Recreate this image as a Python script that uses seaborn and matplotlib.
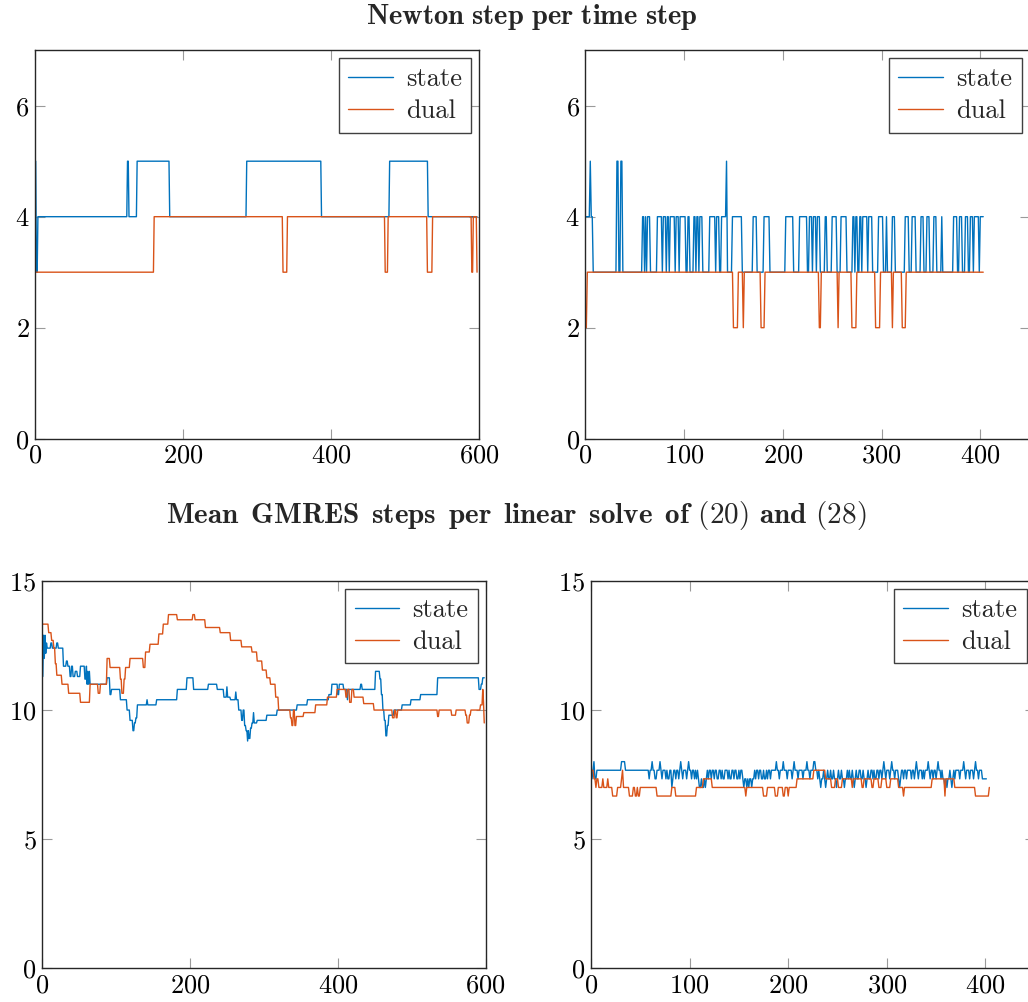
import numpy as np
import matplotlib
matplotlib.use("Agg")
import matplotlib.pyplot as plt
import seaborn as sns

BLUE = "#0072BD"
ORANGE = "#D95319"

# ---- Newton steps, first run: (value, run length)
newton_state_a_vals = [5, 3, 4, 5, 4, 5, 4, 5, 4, 5, 4]
newton_state_a_runs = [2, 2, 121, 2, 11, 44, 104, 101, 92, 52, 67]
newton_dual_a_vals = [3, 4, 3, 4, 3, 4, 3, 4, 3, 4, 3]
newton_dual_a_runs = [161, 174, 6, 132, 4, 53, 7, 53, 2, 5, 1]

# ---- Newton steps, second run (404 steps): base value 3, intervals at 4, single steps at 5
newton_b_len = 404
newton_state_b_fours = [(0, 7), (58, 59), (61, 61), (63, 65), (73, 77), (79, 81), (83, 84), (86, 90),
                        (92, 94), (96, 101), (104, 105), (110, 111), (113, 114), (116, 118),
                        (126, 131), (133, 135), (138, 142), (149, 158), (170, 173), (181, 186),
                        (203, 210), (217, 224), (227, 229), (231, 233), (235, 237), (243, 244),
                        (250, 254), (259, 264), (271, 272), (274, 275), (278, 279), (281, 285),
                        (287, 290), (297, 301), (305, 305), (311, 313), (324, 327), (331, 334),
                        (340, 342), (346, 348), (353, 355), (361, 361), (373, 376), (379, 381),
                        (385, 387), (390, 392), (394, 398), (400, 403)]
newton_state_b_fives = [5, 32, 33, 36, 37, 143]
newton_dual_b_twos = [(0, 1), (150, 154), (160, 160), (178, 181), (237, 238), (256, 256),
                      (270, 274), (294, 298), (311, 311), (321, 324)]

# ---- Mean GMRES steps, first run: change points (step, value)
gm_state_a_t = [0, 1, 2, 3, 4, 5, 6, 7, 12, 14, 20, 22, 29, 33, 35, 38, 40, 42, 45, 48, 52, 58, 60,
                61, 62, 63, 64, 65, 88, 92, 94, 106, 115, 119, 123, 125, 127, 129, 142, 143, 155,
                183, 196, 205, 225, 237, 246, 250, 251, 255, 262, 263, 266, 270, 272, 274, 276,
                278, 279, 280, 282, 284, 286, 287, 291, 304, 318, 345, 359, 388, 392, 400, 402,
                408, 413, 414, 431, 433, 451, 457, 459, 461, 463, 465, 467, 469, 476, 487, 499,
                512, 535, 591, 594, 596]
gm_state_a_v = [12.9, 11.3, 12.9, 12.0, 12.9, 12.2, 12.6, 12.4, 12.6, 12.4, 12.6, 12.4, 11.7, 11.9,
                11.7, 11.3, 11.7, 11.3, 11.5, 11.3, 11.7, 11.2, 11.7, 11.0, 11.5, 11.0, 11.5, 11.0,
                11.25, 10.6, 10.8, 10.4, 10.0, 9.6, 9.2, 9.5, 9.7, 10.2, 10.4, 10.2, 10.4, 10.8,
                11.25, 10.8, 11.0, 10.8, 10.5, 10.9, 10.5, 10.4, 10.7, 10.4, 10.0, 9.6, 10.0, 9.4,
                9.2, 8.8, 9.2, 8.9, 9.3, 9.5, 9.9, 9.5, 9.6, 9.8, 10.0, 10.2, 10.4, 10.6, 11.0,
                10.6, 11.0, 10.8, 10.4, 10.8, 11.0, 10.8, 11.5, 11.2, 10.6, 10.0, 9.6, 9.0, 9.4,
                9.8, 10.0, 10.2, 10.4, 10.6, 11.25, 10.8, 11.0, 11.25]
gm_dual_a_t = [0, 9, 13, 16, 18, 20, 27, 36, 52, 65, 76, 79, 88, 92, 106, 108, 111, 113, 119, 137,
               140, 146, 158, 164, 171, 183, 204, 207, 221, 241, 255, 270, 284, 291, 298, 304,
               309, 316, 320, 336, 338, 340, 342, 344, 354, 370, 386, 399, 411, 413, 416, 419,
               422, 435, 449, 474, 477, 479, 481, 535, 537, 554, 560, 573, 575, 578, 580, 593,
               596, 597, 598]
gm_dual_a_v = [13.33, 13.0, 12.7, 12.4, 11.8, 11.35, 11.0, 10.65, 10.3, 11.0, 10.65, 11.0, 12.0,
               11.65, 11.2, 10.65, 11.2, 11.65, 12.0, 11.65, 12.25, 12.55, 12.95, 13.33, 13.7,
               13.5, 13.7, 13.5, 13.2, 13.0, 12.7, 12.45, 12.25, 11.9, 11.55, 11.25, 11.0, 10.5,
               10.0, 9.7, 9.4, 10.0, 9.4, 9.75, 9.9, 10.2, 10.5, 10.8, 10.5, 10.8, 10.3, 10.8,
               10.5, 10.25, 10.0, 9.7, 10.0, 9.7, 10.0, 9.75, 10.0, 9.8, 10.0, 9.8, 9.5, 9.8,
               10.0, 10.2, 10.8, 10.3, 9.5]
gm_a_len = 599

# ---- Mean GMRES steps, second run: total GMRES steps of 3 solves (mean = value / 3)
gm_state_b_head_t = [0, 1, 2, 3, 4, 6, 31, 35]
gm_state_b_head_v = [23, 22, 23, 24, 22, 23, 24, 23]
gm_state_b_head_len = 57
gm_state_b_tail = [
    23, 23, 22, 23, 23, 24, 23, 23, 22, 22, 23, 23, 23, 24, 23, 22, 23, 23, 23,
    22, 23, 22, 22, 23, 23, 21, 22, 23, 23, 22, 23, 23, 22,
    23, 24, 23, 22, 23, 23, 23, 22, 23, 24, 23, 23, 22, 23, 23, 22, 23,
    22, 23, 22, 21, 21, 22, 21, 21, 22, 21, 22, 23, 22, 23, 23, 22, 23,
    23, 22, 23, 23, 22, 22, 23, 23, 22, 23, 22, 22, 23, 23, 23, 22, 23, 22, 22, 23, 23, 22, 23, 23,
    22, 22, 23, 22, 23, 23,
    22, 21, 22, 22, 21, 22, 21, 22, 22, 21, 22, 22, 23, 22,
    23, 23, 22, 23, 23, 22, 22, 23, 22, 22, 23, 22, 23, 23, 22, 23, 23,
    23, 23, 23, 24, 23, 23, 22, 23, 23, 23, 24, 23, 23, 23, 22, 23, 23, 23, 23, 22,
    23, 24, 23, 23, 23, 22, 23, 23, 23, 23, 22, 23, 23, 23, 24, 23, 23, 22, 23, 23,
    23, 24, 24, 23, 23, 22, 23, 22, 21, 22, 22, 23, 22, 21, 22, 23, 22, 22, 23, 22,
    22, 23, 22, 22, 21, 22, 23, 22, 22, 23, 22, 22, 21, 22, 22, 23, 22, 23, 22, 22, 23, 22, 21, 22,
    23, 22, 22, 23, 23, 22, 22, 23, 22, 22, 21, 22, 23, 22, 22, 23, 23, 22, 23, 22, 22, 23, 23, 22,
    23, 23, 22, 23, 24, 23, 22, 23, 23, 23, 22, 23, 24, 23, 23, 22, 23,
    23, 23, 22, 21, 22, 23, 23, 22, 23, 23, 22, 23, 23, 23,
    23, 22, 23, 23, 22, 23, 24, 23, 22, 23, 23, 23, 22, 23, 22, 23, 23,
    23, 24, 23, 22, 23, 23, 22, 23, 23, 22, 23, 24, 23, 23, 22, 23, 22,
    22, 21, 22, 21, 22, 22, 23, 22, 21, 22, 23, 22, 23, 23,
    23, 23, 22, 23, 23, 23, 24, 23, 22, 23, 23, 23, 22, 23, 23, 23,
    22, 23, 24, 23, 23, 22, 23, 23, 23, 22, 22, 22, 22, 22]
gm_dual_b_t = [0, 3, 5, 6, 8, 12, 13, 17, 18, 22, 27, 31, 32, 33, 39, 43, 45, 47, 48, 50, 67, 82,
               86, 107, 114, 123, 157, 158, 175, 179, 187, 190, 195, 197, 200, 201, 209, 226,
               238, 244, 248, 251, 255, 265, 266, 275, 277, 285, 287, 292, 295, 300, 304, 312,
               317, 318, 346, 359, 360, 369, 390, 404]
gm_dual_b_v = [23, 22, 21, 22, 21, 22, 21, 22, 21, 20, 21, 22, 23, 21, 20, 21, 20, 21, 20, 21, 20,
               21, 20, 21, 22, 21, 20, 21, 20, 21, 20, 21, 20, 21, 20, 21, 22, 23, 22, 21, 22, 21,
               22, 21, 22, 21, 22, 21, 22, 21, 22, 21, 22, 21, 20, 21, 22, 20, 22, 21, 20, 21]
gm_b_len = 405


def from_runs(vals, runs):
    return np.repeat(np.array(vals, dtype=float), runs)


def from_changes(ts, vs, n):
    runs = np.diff(list(ts) + [n])
    return np.repeat(np.array(vs, dtype=float), runs)


newton_state_a = from_runs(newton_state_a_vals, newton_state_a_runs)
newton_dual_a = from_runs(newton_dual_a_vals, newton_dual_a_runs)

newton_state_b = np.full(newton_b_len, 3.0)
for a, b in newton_state_b_fours:
    newton_state_b[a:b + 1] = 4
newton_state_b[newton_state_b_fives] = 5
newton_dual_b = np.full(newton_b_len, 3.0)
for a, b in newton_dual_b_twos:
    newton_dual_b[a:b + 1] = 2

gm_state_a = from_changes(gm_state_a_t, gm_state_a_v, gm_a_len)
gm_dual_a = from_changes(gm_dual_a_t, gm_dual_a_v, gm_a_len)
gm_state_b = np.concatenate([from_changes(gm_state_b_head_t, gm_state_b_head_v, gm_state_b_head_len),
                             np.array(gm_state_b_tail, dtype=float)])[:gm_b_len] / 3
gm_dual_b = from_changes(gm_dual_b_t, gm_dual_b_v, gm_b_len) / 3

sns.set_style("ticks")
plt.rcParams["font.family"] = ["cmr10", "DejaVu Serif"]
plt.rcParams["mathtext.fontset"] = "cm"
plt.rcParams["axes.formatter.use_mathtext"] = True
plt.rcParams["axes.unicode_minus"] = False

fig = plt.figure(figsize=(10.28, 10.02), dpi=100)
ax1 = fig.add_axes([0.0340, 0.5622, 0.4322, 0.3877])
ax2 = fig.add_axes([0.5694, 0.5622, 0.4322, 0.3877])
ax3 = fig.add_axes([0.0409, 0.0339, 0.4316, 0.3862])
ax4 = fig.add_axes([0.5749, 0.0339, 0.4316, 0.3862])

panels = [
    (ax1, newton_state_a, newton_dual_a, (0, 600), [0, 200, 400, 600], (0, 7), [0, 2, 4, 6]),
    (ax2, newton_state_b, newton_dual_b, (0, 450), [0, 100, 200, 300, 400], (0, 7), [0, 2, 4, 6]),
    (ax3, gm_state_a, gm_dual_a, (0, 600), [0, 200, 400, 600], (0, 15), [0, 5, 10, 15]),
    (ax4, gm_state_b, gm_dual_b, (0, 450), [0, 100, 200, 300, 400], (0, 15), [0, 5, 10, 15]),
]

for ax, st, du, xl, xt, yl, yt in panels:
    sns.lineplot(x=np.arange(len(st)), y=st, ax=ax, color=BLUE, linewidth=1.0, label="state")
    sns.lineplot(x=np.arange(len(du)), y=du, ax=ax, color=ORANGE, linewidth=1.0, label="dual")
    ax.set_xlim(*xl)
    ax.set_ylim(*yl)
    ax.set_xticks(xt)
    ax.set_yticks(yt)
    ax.tick_params(direction="in", top=True, right=True, length=7, width=0.8,
                   color="#9a9a9a", labelcolor="black", labelsize=19, pad=4)
    for s in ax.spines.values():
        s.set_visible(True)
        s.set_linewidth(1.0)
        s.set_color("#262626")
    leg = ax.legend(loc="upper right", fontsize=19, handlelength=1.7, handletextpad=0.5,
                    borderaxespad=0.3, borderpad=0.35, labelspacing=0.32, fancybox=False,
                    framealpha=1.0, edgecolor="#404040")
    leg.get_frame().set_linewidth(1.0)

fig.text(0.517, 0.983, r"$\mathbf{Newton\ step\ per\ time\ step}$", ha="center", va="center", fontsize=20.5)
fig.text(0.502, 0.486,
         r"$\mathbf{Mean\ \,GMRES\ \,steps\ \,per\ \,linear\ \,solve\ \,of}$ (20) $\mathbf{and}$ (28)",
         ha="center", va="center", fontsize=21)

fig.savefig("out.png", dpi=100)
